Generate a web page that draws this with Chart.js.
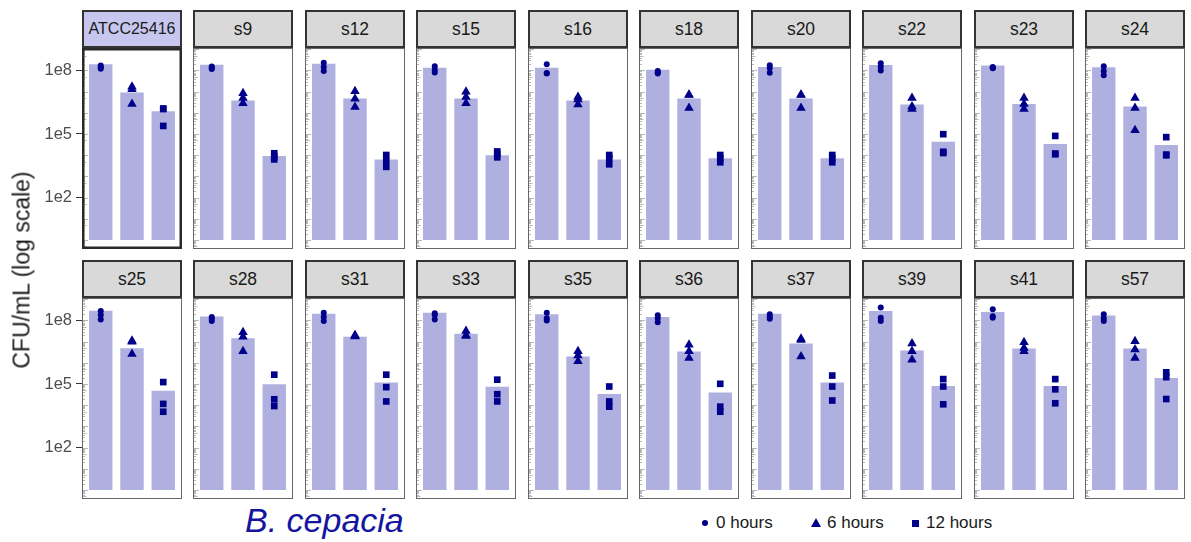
<!DOCTYPE html>
<html><head><meta charset="utf-8">
<script src="https://cdn.jsdelivr.net/npm/chart.js@4"></script>
<style>
body{margin:0;background:#fff;}
#root{position:relative;width:1191px;height:542px;overflow:hidden;font-family:"Liberation Sans",Arial,Helvetica,sans-serif;}
.strip{position:absolute;box-sizing:border-box;border:2px solid #333;background:#d9d9d9;color:#1a1a1a;font-size:17.5px;display:flex;align-items:center;justify-content:center;}
.strip.ref{background:#c6c6ee;font-size:16px;}
.wrap{position:absolute;}
.ytitle{position:absolute;left:22px;top:270px;transform:translate(-50%,-50%) rotate(-90deg);font-size:23px;color:#1a1a1a;white-space:nowrap;}
.xtitle{position:absolute;left:245px;top:501px;font-size:34px;font-style:italic;color:#1414a0;white-space:nowrap;}
.leg{position:absolute;top:512px;font-size:17px;color:#1a1a1a;white-space:nowrap;line-height:22px;}
.sym{position:absolute;}
</style></head>
<body><div id="root"></div>
<script>
// ---- data ----
const strains = ['ATCC25416','s9','s12','s15','s16','s18','s20','s22','s23','s24',
                 's25','s28','s31','s33','s35','s36','s37','s39','s41','s57'];
const timeLabels = ['0 hours','6 hours','12 hours'];
const yTickValues = [1e2, 1e5, 1e8];
const bar0  = [1.95e8,1.86e8,2.1e8,1.35e8,1.35e8,1.07e8,1.45e8,1.8e8,1.7e8,1.4e8,
               2.9e8,1.55e8,2.1e8,2.3e8,1.95e8,1.45e8,2.1e8,2.8e8,2.5e8,1.7e8];
const bar6  = [9.1e6,3.8e6,4.7e6,4.7e6,3.8e6,4.7e6,4.7e6,2.45e6,2.6e6,2.0e6,
               4.9e6,1.45e7,1.7e7,2.35e7,2.0e6,3.4e6,8.1e6,3.8e6,4.7e6,4.7e6];
const bar12 = [1.2e6,9.1e3,6.3e3,9.8e3,6.2e3,7.1e3,7.1e3,4.3e4,3.4e4,3.0e4,
               4.8e4,9.8e4,1.17e5,7.4e4,3.4e4,4.0e4,1.17e5,8.1e4,8.1e4,1.9e5];
const rep0 = [
 [1.7e8,1.4e8,1.2e8],[1.55e8,1.3e8,1.17e8],[2.3e8,1.45e8,9.3e7],[1.6e8,1.05e8,7.9e7],
 [1.95e8,7.6e7,7.2e7],[9.3e7,8.3e7,7.2e7],[1.74e8,1.3e8,7.8e7],[2.2e8,1.5e8,1.0e8],
 [1.45e8,1.35e8,1.26e8],[1.6e8,9.3e7,6.0e7],
 [2.8e8,1.8e8,1.1e8],[1.45e8,1.2e8,9.3e7],[2.3e8,1.45e8,9.3e7],[2.2e8,1.8e8,1.1e8],
 [2.3e8,1.26e8,1.0e8],[1.74e8,1.26e8,8.3e7],[1.95e8,1.5e8,1.2e8],[4.1e8,1.35e8,9.3e7],
 [3.4e8,1.6e8,1.35e8],[1.95e8,1.26e8,9.3e7]];
const rep6 = [
 [1.7e7,1.3e7,2.6e6],[8.3e6,5.0e6,2.8e6],[1.05e7,4.6e6,1.9e6],[1.0e7,5.6e6,2.8e6],
 [5.6e6,4.2e6,2.45e6],[7.2e6,6.9e6,1.7e6],[7.2e6,6.9e6,1.7e6],[5.0e6,2.0e6,1.5e6],
 [5.0e6,2.6e6,1.5e6],[5.0e6,1.7e6,1.5e5],
 [1.1e7,1.0e7,2.6e6],[2.8e7,1.7e7,3.5e6],[2.0e7,1.9e7,1.75e7],[3.2e7,2.0e7,1.85e7],
 [3.5e6,2.2e6,1.17e6],[7.2e6,3.5e6,1.7e6],[1.35e7,1.2e7,2.0e6],[8.1e6,3.5e6,1.4e6],
 [9.3e6,5.0e6,3.5e6],[1.05e7,4.2e6,1.7e6]];
const rep12 = [
 [1.6e6,1.5e6,2.4e5],[1.23e4,8.9e3,6.3e3],[1.02e4,5.5e3,2.8e3],[1.5e4,1.1e4,7.9e3],
 [1.02e4,7.1e3,3.7e3],[1.02e4,7.1e3,4.6e3],[1.02e4,7.1e3,4.6e3],[9.8e4,1.45e4,1.26e4],
 [8.1e4,1.2e4,1.1e4],[7.1e4,1.07e4,9.8e3],
 [1.23e5,1.15e4,4.9e3],[2.75e5,1.9e4,9.1e3],[2.75e5,7.1e4,1.5e4],[1.6e5,3.3e4,1.5e4],
 [7.6e4,1.5e4,8.5e3],[1.02e5,8.5e3,4.9e3],[2.5e5,7.6e4,1.66e4],[1.7e5,7.6e4,1.1e4],
 [1.7e5,5.6e4,1.23e4],[3.55e5,2.1e5,1.95e4]];

// ---- styling / layout ----
const BAR_COLOR = '#b0b0e0';
const PT_COLOR = '#00008b';
const Y_MIN = Math.pow(10, -0.43), Y_MAX = Math.pow(10, 9.06);
const PANEL_W = 100, PANEL_H = 201, COL_STEP = 111.45, ROW_STEP = 250;
const PANEL_X0 = 82, PANEL_Y0 = 48, STRIP_H = 38;
const FONT = '"Liberation Sans", Arial, Helvetica, sans-serif';

function zeroPad(sc) {
  sc.paddingTop = 0; sc.paddingBottom = 0; sc.paddingLeft = 0; sc.paddingRight = 0;
}

const panelPlugin = {
  id: 'panelDeco',
  beforeDatasetsDraw(chart) {
    const {ctx, chartArea: a} = chart;
    const ys = chart.scales.y;
    ctx.save();
    ctx.strokeStyle = '#9a9a9a';
    ctx.lineWidth = 0.7;
    for (let d = -1; d <= 9; d++) {
      for (let m = 1; m <= 9; m++) {
        const v = m * Math.pow(10, d);
        if (v < ys.min || v > ys.max) continue;
        const y = Math.round(ys.getPixelForValue(v)) + 0.5;
        const len = m === 1 ? 5 : (m === 5 ? 3.5 : 2);
        ctx.beginPath();
        ctx.moveTo(a.left + 1, y);
        ctx.lineTo(a.left + 1 + len, y);
        ctx.stroke();
      }
    }
    ctx.restore();
  },
  afterDraw(chart) {
    const {ctx, chartArea: a} = chart;
    const ref = chart.options.plugins.panelDeco.highlight;
    const lw = ref ? 2.5 : 1;
    ctx.save();
    ctx.strokeStyle = ref ? '#2a2a2a' : '#666';
    ctx.lineWidth = lw;
    ctx.strokeRect(a.left + lw / 2, a.top + lw / 2, a.right - a.left - lw, a.bottom - a.top - lw);
    ctx.restore();
  }
};

const root = document.getElementById('root');

strains.forEach((name, i) => {
  const r = Math.floor(i / 10), c = i % 10;
  const left = PANEL_X0 + Math.round(c * COL_STEP);
  const top = PANEL_Y0 + r * ROW_STEP;

  const s = document.createElement('div');
  s.className = 'strip' + (i === 0 ? ' ref' : '');
  s.style.left = left + 'px';
  s.style.top = (top - STRIP_H) + 'px';
  s.style.width = PANEL_W + 'px';
  s.style.height = STRIP_H + 'px';
  s.textContent = name;

  const w = document.createElement('div');
  w.className = 'wrap';
  const wl = c === 0 ? 0 : left;
  const ww = c === 0 ? left + PANEL_W : PANEL_W;
  w.style.left = wl + 'px';
  w.style.top = top + 'px';
  w.style.width = ww + 'px';
  w.style.height = PANEL_H + 'px';
  const cv = document.createElement('canvas');
  cv.width = ww; cv.height = PANEL_H;
  cv.style.width = ww + 'px'; cv.style.height = PANEL_H + 'px';
  w.appendChild(cv);
  root.appendChild(w);
  root.appendChild(s);

  const axisW = c === 0 ? left : 0;

  new Chart(cv, {
    type: 'bar',
    data: {
      datasets: [
        {
          type: 'bar', label: 'mean',
          data: [{x: 1, y: bar0[i]}, {x: 2, y: bar6[i]}, {x: 3, y: bar12[i]}],
          backgroundColor: BAR_COLOR, borderWidth: 0, base: 1,
          categoryPercentage: 1, barPercentage: 0.75, order: 2
        },
        {
          type: 'scatter', label: timeLabels[0],
          data: rep0[i].map(v => ({x: 1, y: v})),
          pointStyle: 'circle', pointRadius: 3, pointBackgroundColor: PT_COLOR,
          pointBorderWidth: 0, showLine: false, order: 1, clip: false
        },
        {
          type: 'scatter', label: timeLabels[1],
          data: rep6[i].map(v => ({x: 2, y: v})),
          pointStyle: 'triangle', pointRadius: 5.5, pointBackgroundColor: PT_COLOR,
          pointBorderWidth: 0, showLine: false, order: 1, clip: false
        },
        {
          type: 'scatter', label: timeLabels[2],
          data: rep12[i].map(v => ({x: 3, y: v})),
          pointStyle: 'rect', pointRadius: 4.7, pointBackgroundColor: PT_COLOR,
          pointBorderWidth: 0, showLine: false, order: 1, clip: false
        }
      ]
    },
    options: {
      responsive: false, animation: false, events: [],
      layout: {padding: 0, autoPadding: false},
      plugins: {legend: {display: false}, tooltip: {enabled: false}, panelDeco: {highlight: i === 0}},
      scales: {
        x: {type: 'linear', min: 0.4, max: 3.6, offset: false, display: false,
            afterFit: (sc) => { zeroPad(sc); sc.height = 0; }},
        y: {
          type: 'logarithmic', min: Y_MIN, max: Y_MAX, bounds: 'data',
          display: c === 0,
          afterFit: (sc) => { zeroPad(sc); sc.width = axisW; },
          afterBuildTicks: (sc) => { sc.ticks = yTickValues.map(v => ({value: v})); },
          ticks: {
            callback: (v) => '1e' + Math.round(Math.log10(v)),
            color: '#4d4d4d', font: {size: 16.5, family: FONT}, padding: 4,
            autoSkip: false, maxRotation: 0
          },
          grid: {drawOnChartArea: false, drawTicks: true, tickLength: 6, color: '#333', lineWidth: 1},
          border: {display: false}
        }
      }
    },
    plugins: [panelPlugin]
  });
});

// axis titles
const yt = document.createElement('div');
yt.className = 'ytitle'; yt.textContent = 'CFU/mL (log scale)';
root.appendChild(yt);
const xt = document.createElement('div');
xt.className = 'xtitle'; xt.textContent = 'B. cepacia';
root.appendChild(xt);

// legend
const legendItems = [
  {label: timeLabels[0], shape: 'circle', x: 705},
  {label: timeLabels[1], shape: 'triangle', x: 816},
  {label: timeLabels[2], shape: 'square', x: 915}
];
legendItems.forEach(it => {
  const sym = document.createElement('div');
  sym.className = 'sym';
  const cy = 523;
  if (it.shape === 'circle') {
    Object.assign(sym.style, {left: (it.x - 3) + 'px', top: (cy - 3) + 'px', width: '6px', height: '6px', borderRadius: '50%', background: PT_COLOR});
  } else if (it.shape === 'triangle') {
    Object.assign(sym.style, {left: (it.x - 5) + 'px', top: (cy - 5) + 'px', width: 0, height: 0,
      borderLeft: '5px solid transparent', borderRight: '5px solid transparent', borderBottom: '9px solid ' + PT_COLOR});
  } else {
    Object.assign(sym.style, {left: (it.x - 3.5) + 'px', top: (cy - 3.5) + 'px', width: '7px', height: '7px', background: PT_COLOR});
  }
  root.appendChild(sym);
  const t = document.createElement('div');
  t.className = 'leg'; t.textContent = it.label;
  t.style.left = (it.x + 11) + 'px';
  root.appendChild(t);
});
</script>
</body></html>
